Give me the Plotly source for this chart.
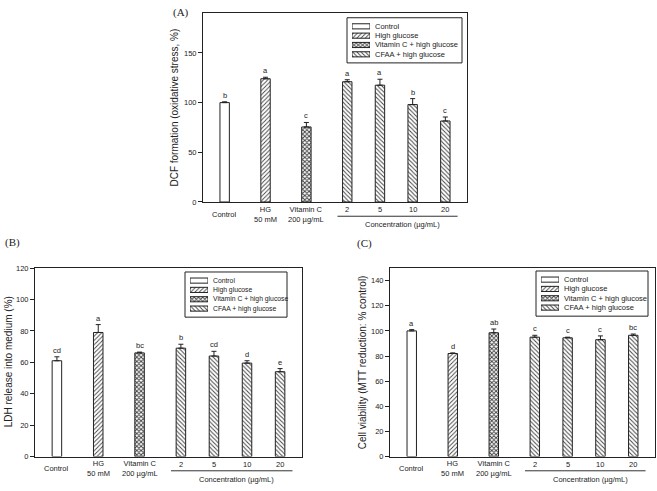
import plotly.graph_objects as go

W, H = 657, 491

# ---------------- data ----------------
groups = ["Control", "High glucose", "Vitamin C + high glucose", "CFAA + high glucose"]
cat_labels = ["Control", "HG<br>50 mM", "Vitamin C<br>200 µg/mL", "2", "5", "10", "20"]

dcf_mean = [100, 124, 75.5, 121, 117.5, 98, 81.5]
dcf_err = [0.8, 1.5, 4.5, 2, 6, 6, 4]
dcf_letters = ["b", "a", "c", "a", "a", "b", "c"]

ldh_mean = [61, 79, 66, 69, 64, 59.5, 54]
ldh_err = [2.5, 5, 0.5, 2.5, 3, 1.5, 2]
ldh_letters = ["cd", "a", "bc", "b", "cd", "d", "e"]

mtt_mean = [100, 82, 98.5, 95, 94.5, 93, 96.5]
mtt_err = [1, 0.5, 3, 1.5, 0.5, 3, 1]
mtt_letters = ["a", "d", "ab", "c", "c", "c", "bc"]

# ---------------- layout helpers ----------------
cat_pos = [0, 1, 2, 3, 3.8, 4.6, 5.4]
XR = [-0.53, 5.93]
BAR_W = 0.23


def fx(x):
    return x / W


def fy(y):
    return 1 - y / H


FONT = "Liberation Sans, Arial, sans-serif"
SERIF = "Liberation Serif, Times New Roman, serif"
INK = "#222"

styles = [
    dict(shape="", size=4, solidity=0.3),
    dict(shape="/", size=3, solidity=0.3),
    dict(shape="x", size=3, solidity=0.55),
    dict(shape="\\", size=3, solidity=0.33),
]


def marker_for(i):
    st = styles[i]
    m = dict(color="white", line=dict(color=INK, width=1))
    if st["shape"]:
        m["pattern"] = dict(shape=st["shape"], fgcolor="#444", bgcolor="white",
                            size=st["size"], solidity=st["solidity"], fillmode="replace")
    return m


panels = [
    dict(name="A", mean=dcf_mean, err=dcf_err, letters=dcf_letters,
         box=(203, 467, 9.3, 201.7), yr=[0, 190], tv=[0, 50, 100, 150],
         title="DCF formation (oxidative stress, %)", tx=175,
         leg=(347, 462, 14, 60), legfont=7.5, lab=("(A)", 181, 9)),
    dict(name="B", mean=ldh_mean, err=ldh_err, letters=ldh_letters,
         box=(35, 302, 269, 461), yr=[0, 120], tv=[0, 20, 40, 60, 80, 100, 120],
         title="LDH release into medium (%)", tx=8,
         leg=(185, 287, 273, 319), legfont=6.8, lab=("(B)", 12, 243)),
    dict(name="C", mean=mtt_mean, err=mtt_err, letters=mtt_letters,
         box=(390, 655, 269, 461), yr=[0, 150], tv=[0, 20, 40, 60, 80, 100, 120, 140],
         title="Cell viability (MTT reduction: % control)", tx=362,
         leg=(536, 648, 272, 318), legfont=7.5, lab=("(C)", 364, 244)),
]

fig = go.Figure()
annotations = []
shapes = []
layout_axes = {}

for k, p in enumerate(panels):
    ax = k + 1
    xa = "x" if ax == 1 else f"x{ax}"
    ya = "y" if ax == 1 else f"y{ax}"
    L, R, T, B = p["box"]
    mean, err = p["mean"], p["err"]
    idx_sets = [[0], [1], [2], [3, 4, 5, 6]]
    for g, ids in enumerate(idx_sets):
        fig.add_trace(go.Bar(
            x=[cat_pos[i] for i in ids], y=[mean[i] for i in ids],
            width=BAR_W, marker=marker_for(g), name=groups[g],
            error_y=dict(type="data", array=[err[i] for i in ids],
                         arrayminus=[0] * len(ids), symmetric=False,
                         color=INK, thickness=1, width=2.5),
            xaxis=xa, yaxis=ya, showlegend=False, hoverinfo="skip"))
    # letters
    for i in range(7):
        annotations.append(dict(x=cat_pos[i], y=mean[i] + err[i], xref=xa, yref=ya,
                                text=p["letters"][i], showarrow=False, yanchor="bottom",
                                xanchor="center", yshift=0,
                                font=dict(size=7.5, family=FONT, color=INK)))
    # category labels
    for i in range(7):
        lab = cat_labels[i]
        if "<br>" in lab or lab == "Control":
            yy = B + 12.5
        else:
            yy = B + 8
        annotations.append(dict(x=cat_pos[i], y=fy(yy), xref=xa, yref="paper",
                                text=lab, showarrow=False, yanchor="middle", xanchor="center",
                                font=dict(size=7.5, family=FONT, color=INK)))
    annotations.append(dict(x=(cat_pos[3] + cat_pos[6]) / 2 + 0.15, y=fy(B + 23), xref=xa,
                            yref="paper", text="Concentration (µg/mL)", showarrow=False,
                            yanchor="middle", xanchor="center",
                            font=dict(size=7.5, family=FONT, color=INK)))
    shapes.append(dict(type="line", xref=xa, yref="paper", x0=cat_pos[3] - 0.24,
                       x1=cat_pos[6] + 0.3, y0=fy(B + 14.5), y1=fy(B + 14.5),
                       line=dict(color="#333", width=1)))
    # y title
    annotations.append(dict(x=fx(p["tx"]), y=fy((T + B) / 2), xref="paper", yref="paper",
                            text=p["title"], textangle=-90, showarrow=False,
                            xanchor="center", yanchor="middle",
                            font=dict(size=10, family=FONT, color=INK)))
    # panel label
    t, lx, ly = p["lab"]
    annotations.append(dict(x=fx(lx), y=fy(ly), xref="paper", yref="paper", text=t,
                            showarrow=False, xanchor="center", yanchor="middle",
                            font=dict(size=11, family=SERIF, color=INK)))

    layout_axes["xaxis" if ax == 1 else f"xaxis{ax}"] = dict(
        domain=[fx(L), fx(R)], range=XR, showticklabels=False, ticks="",
        showline=True, mirror=True, linecolor=INK, linewidth=1,
        showgrid=False, zeroline=False, anchor=ya, fixedrange=True)
    layout_axes["yaxis" if ax == 1 else f"yaxis{ax}"] = dict(
        domain=[fy(B), fy(T)], range=p["yr"], tickvals=p["tv"], ticks="outside",
        ticklen=4, tickwidth=1, tickcolor=INK, showline=True, mirror=True,
        linecolor=INK, linewidth=1, showgrid=False, zeroline=False, anchor=xa,
        tickfont=dict(size=7.5, family=FONT, color=INK), fixedrange=True)

    # ---- legend (box + swatches in a small hidden axis + text) ----
    lx0, lx1, ly0, ly1 = p["leg"]
    shapes.append(dict(type="rect", xref="paper", yref="paper", x0=fx(lx0), x1=fx(lx1),
                       y0=fy(ly0), y1=fy(ly1), line=dict(color=INK, width=1),
                       fillcolor="rgba(0,0,0,0)", layer="above"))
    lax = ax + 3
    lxa, lya = f"x{lax}", f"y{lax}"
    sw_x0, sw_x1 = lx0 + 5, lx0 + 23
    sw_y0, sw_y1 = ly0 + 4, ly1 - 4
    row_h = (sw_y1 - sw_y0) / 4
    for g in range(4):
        fig.add_trace(go.Bar(x=[1], y=[g], orientation="h", width=0.55,
                             marker=marker_for(g), xaxis=lxa, yaxis=lya,
                             showlegend=False, hoverinfo="skip"))
        annotations.append(dict(x=fx(sw_x1 + 3), y=fy(sw_y0 + row_h * (g + 0.5)),
                                xref="paper", yref="paper", text=groups[g],
                                showarrow=False, xanchor="left", yanchor="middle",
                                font=dict(size=p["legfont"], family=FONT, color=INK)))
    layout_axes[f"xaxis{lax}"] = dict(domain=[fx(sw_x0), fx(sw_x1)], range=[0, 1],
                                      visible=False, anchor=lya, fixedrange=True)
    layout_axes[f"yaxis{lax}"] = dict(domain=[fy(sw_y1), fy(sw_y0)], range=[3.5, -0.5],
                                      visible=False, anchor=lxa, fixedrange=True)

fig.update_layout(
    width=W, height=H, margin=dict(l=0, r=0, t=0, b=0),
    paper_bgcolor="white", plot_bgcolor="white", barmode="overlay",
    annotations=annotations, shapes=shapes, showlegend=False,
    font=dict(family=FONT, color=INK),
    **layout_axes)

fig.write_html("out.html", config={"displayModeBar": False},
               post_script="document.body.style.margin='0';document.body.style.overflow='hidden';")
